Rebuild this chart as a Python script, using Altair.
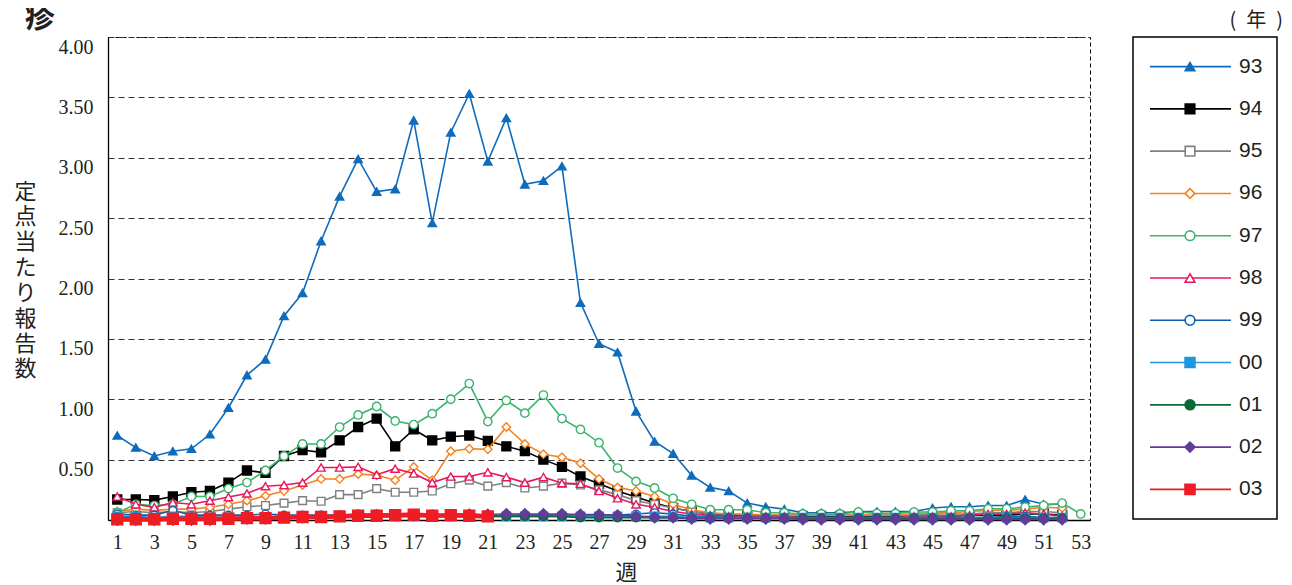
import altair as alt
import pandas as pd

weeks = list(range(1, 54))
series = ["93", "94", "95", "96", "97", "98", "99", "00", "01", "02", "03"]

s93 = [0.70, 0.60, 0.53, 0.57, 0.59, 0.71, 0.93, 1.20, 1.33, 1.69,
       1.88, 2.31, 2.68, 2.99, 2.72, 2.74, 3.31, 2.46, 3.21, 3.53,
       2.97, 3.33, 2.78, 2.81, 2.93, 1.80, 1.46, 1.39, 0.90, 0.65,
       0.55, 0.37, 0.27, 0.24, 0.14, 0.11, 0.09, 0.06, 0.06, 0.06,
       0.07, 0.07, 0.07, 0.07, 0.10, 0.11, 0.11, 0.12, 0.12, 0.17,
       0.13, 0.13, None]
s94 = [0.17, 0.17, 0.165, 0.195, 0.23, 0.24, 0.31, 0.41, 0.39, 0.53,
       0.58, 0.56, 0.66, 0.77, 0.84, 0.61, 0.75, 0.66, 0.69, 0.70,
       0.655, 0.61, 0.57, 0.50, 0.44, 0.36, 0.30, 0.24, 0.19, 0.14,
       0.10, 0.07, 0.05, 0.04, 0.04, 0.03, 0.03, 0.03, 0.03, 0.03,
       0.03, 0.03, 0.03, 0.03, 0.03, 0.03, 0.04, 0.04, 0.04, 0.05,
       0.05, 0.04, None]
s95 = [0.06, 0.07, 0.06, 0.07, 0.06, 0.07, 0.09, 0.11, 0.12, 0.14,
       0.16, 0.155, 0.21, 0.21, 0.26, 0.23, 0.23, 0.24, 0.30, 0.33,
       0.28, 0.31, 0.265, 0.28, 0.305, 0.29, 0.25, 0.21, 0.16, 0.13,
       0.10, 0.07, 0.05, 0.05, 0.04, 0.04, 0.04, 0.04, 0.04, 0.04,
       0.04, 0.04, 0.04, 0.04, 0.05, 0.05, 0.05, 0.06, 0.06, 0.07,
       0.07, 0.06, None]
s96 = [0.07, 0.09, 0.08, 0.09, 0.09, 0.105, 0.13, 0.16, 0.20, 0.24,
       0.29, 0.34, 0.34, 0.38, 0.37, 0.33, 0.44, 0.33, 0.57, 0.59,
       0.585, 0.77, 0.63, 0.545, 0.52, 0.47, 0.34, 0.27, 0.24, 0.195,
       0.13, 0.085, 0.06, 0.05, 0.05, 0.04, 0.04, 0.04, 0.04, 0.04,
       0.04, 0.04, 0.04, 0.05, 0.06, 0.06, 0.07, 0.08, 0.08, 0.09,
       0.105, 0.10, None]
s97 = [0.06, 0.13, 0.12, 0.13, 0.195, 0.195, 0.26, 0.31, 0.41, 0.53,
       0.63, 0.63, 0.77, 0.87, 0.94, 0.82, 0.79, 0.88, 1.00, 1.13,
       0.815, 0.99, 0.885, 1.035, 0.84, 0.75, 0.64, 0.43, 0.32, 0.265,
       0.18, 0.13, 0.085, 0.085, 0.085, 0.06, 0.06, 0.05, 0.05, 0.05,
       0.066, 0.055, 0.055, 0.066, 0.066, 0.077, 0.077, 0.093, 0.093, 0.107,
       0.12, 0.14, 0.05]
s98 = [0.195, 0.13, 0.105, 0.145, 0.13, 0.16, 0.19, 0.22, 0.28, 0.29,
       0.31, 0.435, 0.435, 0.44, 0.375, 0.425, 0.385, 0.31, 0.36, 0.36,
       0.395, 0.355, 0.31, 0.355, 0.305, 0.30, 0.24, 0.18, 0.13, 0.105,
       0.07, 0.05, 0.04, 0.03, 0.03, 0.03, 0.03, 0.02, 0.02, 0.02,
       0.02, 0.02, 0.02, 0.03, 0.03, 0.03, 0.04, 0.05, 0.05, 0.06,
       0.05, 0.03, None]
s99 = [0.05, 0.04, 0.04, 0.08, 0.04, 0.04, 0.04, 0.04, 0.05, 0.04,
       0.04, 0.04, 0.04, 0.05, 0.05, 0.05, 0.05, 0.04, 0.05, 0.05,
       0.04, 0.04, 0.04, 0.04, 0.04, 0.04, 0.04, 0.04, 0.05, 0.06,
       0.05, 0.03, 0.03, 0.02, 0.02, 0.02, 0.02, 0.02, 0.02, 0.02,
       0.02, 0.02, 0.02, 0.02, 0.02, 0.02, 0.02, 0.02, 0.03, 0.03,
       0.02, 0.02, None]
s00 = [0.03, 0.03, 0.02, 0.03, 0.03, 0.02, 0.02, 0.02, 0.02, 0.02,
       0.03, 0.03, 0.03, 0.03, 0.03, 0.03, 0.03, 0.03, 0.03, 0.03,
       0.03, 0.03, 0.03, 0.03, 0.03, 0.03, 0.03, 0.03, 0.03, 0.03,
       0.03, 0.02, 0.02, 0.02, 0.02, 0.02, 0.02, 0.02, 0.02, 0.02,
       0.02, 0.02, 0.02, 0.02, 0.02, 0.02, 0.02, 0.02, 0.02, 0.02,
       0.02, 0.02, None]
s01 = [0.02, 0.02, 0.015, 0.015, 0.02, 0.02, 0.02, 0.02, 0.02, 0.03,
       0.03, 0.03, 0.03, 0.03, 0.03, 0.03, 0.03, 0.03, 0.03, 0.03,
       0.03, 0.03, 0.03, 0.03, 0.03, 0.02, 0.02, 0.02, 0.02, 0.02,
       0.02, 0.015, 0.015, 0.015, 0.015, 0.015, 0.015, 0.015, 0.015, 0.015,
       0.015, 0.015, 0.015, 0.015, 0.015, 0.015, 0.015, 0.015, 0.015, 0.015,
       0.015, 0.015, None]
s02 = [0.0, 0.0, 0.0, 0.0, 0.0, 0.0, 0.01, 0.01, 0.01, 0.02,
       0.02, 0.03, 0.03, 0.04, 0.04, 0.04, 0.04, 0.04, 0.04, 0.045,
       0.045, 0.05, 0.05, 0.05, 0.05, 0.045, 0.045, 0.04, 0.03, 0.02,
       0.02, 0.01, 0.01, 0.01, 0.01, 0.01, 0.01, 0.005, 0.005, 0.005,
       0.005, 0.005, 0.005, 0.005, 0.005, 0.005, 0.005, 0.005, 0.005, 0.005,
       0.005, 0.005, None]
s03 = [0.005, 0.005, 0.005, 0.01, 0.01, 0.01, 0.01, 0.015, 0.015, 0.02,
       0.025, 0.025, 0.03, 0.035, 0.035, 0.04, 0.045, 0.035, 0.04, 0.035,
       0.03] + [None] * 32

values = [s93, s94, s95, s96, s97, s98, s99, s00, s01, s02, s03]

y_ticks = [0.5, 1.0, 1.5, 2.0, 2.5, 3.0, 3.5, 4.0]
x_ticks = list(range(1, 54, 2))

# styles
colors = ["#0f6cbd", "#000000", "#808080", "#f5821f", "#3db46d", "#e8175d",
          "#0b5fb0", "#1e96dc", "#0a6a35", "#633c97", "#ee1c25"]
shapes = ["triangle-up", "square", "square", "diamond", "circle", "triangle-up",
          "circle", "square", "circle", "diamond", "square"]
filled = [True, True, False, False, False, False, False, True, True, True, True]
line_w = [1.6, 1.6, 1.6, 1.6, 1.6, 1.6, 1.6, 1.6, 1.6, 1.6, 4.5]
pt_size = [70, 80, 60, 70, 70, 70, 60, 70, 70, 110, 120]
leg_size = [90, 100, 80, 90, 100, 90, 90, 110, 110, 140, 190]

rows = []
for s, vals in zip(series, values):
    for w, v in zip(weeks, vals):
        if v is not None:
            rows.append({"week": w, "value": v, "series": s})
df = pd.DataFrame(rows)

x_enc = alt.X("week:Q",
              scale=alt.Scale(domain=[0.5, 53.5], nice=False, zero=False),
              axis=alt.Axis(values=x_ticks, title="週", grid=False, ticks=False,
                            labelFont="Liberation Serif", labelFontSize=20,
                            labelColor="#231f20", labelPadding=12,
                            domainColor="#000000", domainWidth=1.3,
                            titleFont="Noto Sans CJK JP", titleFontSize=22,
                            titleFontWeight="normal", titleColor="#231f20",
                            titleX=518, titleY=52, titleAlign="center",
                            titleBaseline="middle"))
y_enc = alt.Y("value:Q",
              scale=alt.Scale(domain=[0, 4], nice=False),
              axis=alt.Axis(values=y_ticks, format=".2f", ticks=False,
                            grid=True, gridColor="#333333", gridDash=[6, 4],
                            gridWidth=1,
                            labelFont="Liberation Serif", labelFontSize=20,
                            labelColor="#231f20", labelPadding=15, labelOffset=10,
                            domainColor="#000000", domainWidth=1.3,
                            title=list("定点当たり報告数"), titleAngle=0,
                            titleFont="Noto Sans CJK JP", titleFontSize=22,
                            titleFontWeight="normal", titleColor="#231f20",
                            titleLineHeight=25.4, titleX=-83, titleY=154,
                            titleAlign="center", titleBaseline="middle"))

base = alt.Chart(df)
layers = []
for s, c, sh, f, lw, ps in zip(series, colors, shapes, filled, line_w, pt_size):
    sub = base.transform_filter(alt.datum.series == s)
    layers.append(sub.mark_line(color=c, strokeWidth=lw).encode(x=x_enc, y=y_enc))
    layers.append(sub.mark_point(shape=sh, filled=True, fill=c if f else "white",
                                 stroke=c, strokeWidth=1.4, size=ps, opacity=1)
                  .encode(x=x_enc, y=y_enc))

main = alt.layer(*layers).properties(
    width=982, height=483,
    title=alt.TitleParams("疹", anchor="start", frame="group", fontSize=30,
                          font="Noto Sans CJK JP", fontWeight="bold",
                          color="#231f20", dx=-83, offset=4),
    view=alt.ViewBackground(stroke="#000000", strokeDash=[4, 3], strokeWidth=1),
)

# legend panel
leg_df = pd.DataFrame({"series": series})
ly = alt.Y("series:N", scale=alt.Scale(type="point", domain=series, padding=0.7),
           axis=None)
fills = [c if f else "white" for c, f in zip(colors, filled)]
leg_base = alt.Chart(leg_df)
leg_rule = leg_base.mark_rule().encode(
    y=ly, x=alt.value(17), x2=alt.value(98),
    color=alt.Color("series:N", scale=alt.Scale(domain=series, range=colors), legend=None),
    strokeWidth=alt.StrokeWidth("series:N",
                                scale=alt.Scale(domain=series, range=line_w), legend=None),
)
leg_pts = leg_base.mark_point(filled=True, opacity=1, strokeWidth=1.6).encode(
    y=ly, x=alt.value(57),
    shape=alt.Shape("series:N", scale=alt.Scale(domain=series, range=shapes), legend=None),
    fill=alt.Fill("series:N", scale=alt.Scale(domain=series, range=fills), legend=None),
    stroke=alt.Stroke("series:N", scale=alt.Scale(domain=series, range=colors), legend=None),
    size=alt.Size("series:N", scale=alt.Scale(domain=series, range=leg_size), legend=None),
)
leg_txt = leg_base.mark_text(align="left", baseline="middle", font="Liberation Sans",
                             fontSize=21, color="#231f20").encode(
    y=ly, x=alt.value(106), text="series:N")

legend = alt.layer(leg_rule, leg_pts, leg_txt).properties(
    width=144, height=482,
    title=alt.TitleParams("(\u2002年\u2002)", anchor="end", frame="group", fontSize=20,
                          font="Noto Sans CJK JP", fontWeight="normal",
                          color="#231f20", dx=6, offset=6),
    view=alt.ViewBackground(stroke="#000000", strokeWidth=1.5),
)

chart = alt.hconcat(main, legend, spacing=43, bounds="flush").properties(
    padding={"left": 5, "top": -6, "right": 0, "bottom": 0},
    background="white",
).resolve_scale(color="independent", strokeWidth="independent")

chart.save("out.html", embed_options={"renderer": "svg", "actions": False})
